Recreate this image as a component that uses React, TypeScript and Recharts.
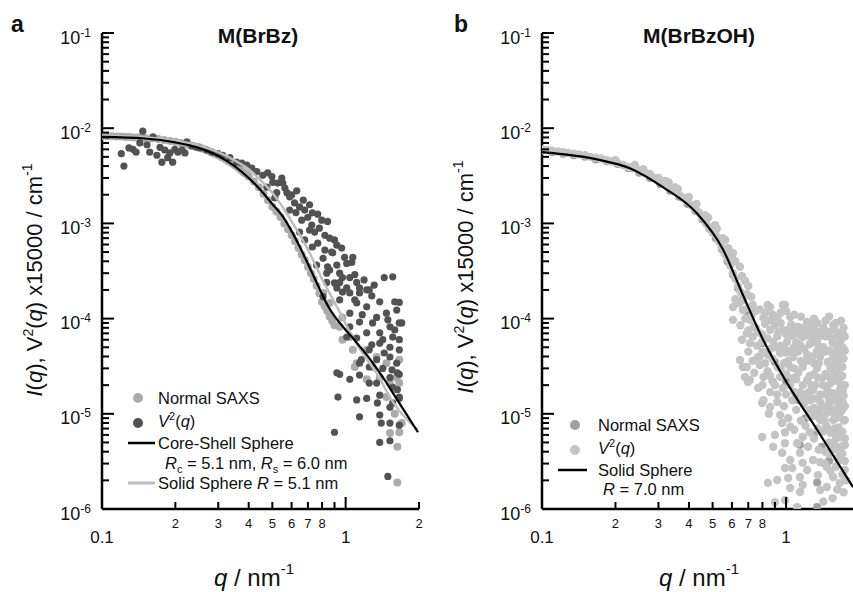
import React from 'react';
import { ComposedChart, Scatter, Line, XAxis, YAxis } from 'recharts';

const FONT = '"Liberation Sans", Arial, Helvetica, sans-serif';

type Pt = [number, number];

// ── Panel a: M(BrBz) ─────────────────────────────────────────
const normalSaxsA: Pt[] = [
  [0.100, 8.3e-3], [0.105, 8.3e-3], [0.110, 8.25e-3], [0.115, 8.2e-3], [0.120, 8.2e-3],
  [0.125, 8.1e-3], [0.130, 8.1e-3], [0.135, 8.0e-3], [0.140, 8.0e-3], [0.145, 7.95e-3],
  [0.150, 7.9e-3], [0.160, 7.8e-3], [0.170, 7.7e-3], [0.180, 7.5e-3], [0.190, 7.35e-3],
  [0.200, 7.2e-3], [0.210, 7.0e-3], [0.220, 6.8e-3], [0.230, 6.6e-3], [0.240, 6.45e-3],
  [0.250, 6.3e-3], [0.260, 6.1e-3], [0.270, 5.85e-3], [0.280, 5.6e-3], [0.290, 5.4e-3],
  [0.300, 5.2e-3], [0.310, 4.95e-3], [0.320, 4.75e-3], [0.330, 4.5e-3], [0.340, 4.3e-3],
  [0.350, 4.1e-3], [0.360, 3.9e-3], [0.370, 3.65e-3], [0.380, 3.45e-3], [0.390, 3.3e-3],
  [0.400, 3.1e-3], [0.420, 2.75e-3], [0.440, 2.4e-3], [0.460, 2.05e-3], [0.480, 1.75e-3],
  [0.500, 1.5e-3], [0.520, 1.33e-3], [0.540, 1.17e-3], [0.560, 1.0e-3], [0.580, 8.7e-4],
  [0.600, 7.5e-4], [0.620, 6.5e-4], [0.640, 5.5e-4], [0.660, 4.7e-4], [0.680, 4.1e-4],
  [0.700, 3.5e-4], [0.720, 3.0e-4], [0.740, 2.6e-4], [0.760, 2.2e-4], [0.780, 1.85e-4],
  [0.800, 1.5e-4], [0.820, 1.35e-4], [0.840, 1.2e-4], [0.860, 1.05e-4], [0.880, 9.5e-5],
  [0.900, 8.5e-5], [0.808, 1.86e-4], [0.86, 1.46e-4], [0.97, 1.03e-4], [0.945, 8.2e-5],
  [0.97, 6.0e-5], [1.04, 6.4e-5], [1.07, 4.7e-5], [1.09, 3.1e-5], [1.11, 3.4e-5],
  [1.22, 4.7e-5], [1.22, 2.3e-5], [1.29, 3.1e-5], [1.34, 3.95e-5], [1.38, 2.4e-5],
  [1.47, 3.4e-5], [1.47, 1.5e-5], [1.52, 2.1e-5], [1.62, 1.8e-5], [1.62, 2.4e-5],
  [1.66, 2.1e-5], [1.66, 3.7e-5], [1.59, 1.0e-5], [1.70, 8.0e-6], [1.66, 6.4e-6],
  [1.52, 6.3e-6], [1.63, 4.5e-6], [1.63, 1.9e-6],
];

const v2A: Pt[] = [
  [0.120, 5.4e-3], [0.123, 4.0e-3], [0.129, 6.2e-3], [0.134, 6.0e-3], [0.138, 5.6e-3],
  [0.143, 7.0e-3], [0.147, 9.3e-3], [0.153, 6.7e-3], [0.157, 5.6e-3], [0.162, 8.1e-3],
  [0.168, 5.2e-3], [0.173, 6.3e-3], [0.176, 4.4e-3], [0.181, 5.9e-3], [0.186, 4.9e-3],
  [0.190, 5.5e-3], [0.195, 4.4e-3], [0.199, 6.0e-3], [0.205, 5.6e-3], [0.213, 5.9e-3],
  [0.219, 5.5e-3], [0.223, 7.2e-3], [0.234, 6.5e-3], [0.245, 6.3e-3], [0.252, 6.2e-3],
  [0.269, 5.9e-3], [0.283, 5.6e-3], [0.299, 5.4e-3], [0.313, 5.2e-3], [0.335, 4.9e-3],
  [0.357, 4.4e-3], [0.375, 4.3e-3], [0.393, 4.1e-3], [0.412, 3.8e-3], [0.432, 3.5e-3],
  [0.457, 3.2e-3], [0.479, 3.4e-3], [0.498, 3.1e-3], [0.502, 2.7e-3], [0.526, 2.65e-3],
  [0.475, 2.4e-3], [0.512, 1.85e-3], [0.521, 2.1e-3], [0.547, 3.0e-3], [0.552, 2.65e-3],
  [0.574, 2.1e-3], [0.589, 1.9e-3], [0.617, 1.64e-3], [0.647, 1.49e-3], [0.679, 1.38e-3],
  [0.73, 1.29e-3], [0.768, 1.25e-3], [0.699, 1.16e-3], [0.66, 1.08e-3], [0.726, 9.6e-4],
  [0.78, 8.9e-4], [0.746, 8.1e-4], [0.822, 7.5e-4], [0.86, 7.0e-4], [0.90, 6.7e-4],
  [0.679, 6.7e-4], [0.768, 6.2e-4], [0.822, 5.25e-4], [0.876, 5.0e-4], [0.99, 4.4e-4],
  [1.01, 3.8e-4], [0.92, 3.65e-4], [0.76, 3.65e-4], [0.843, 3.5e-4], [0.836, 3.0e-4],
  [0.945, 3.0e-4], [1.04, 2.7e-4], [1.09, 2.9e-4], [1.11, 2.4e-4], [1.44, 2.7e-4],
  [1.56, 2.75e-4], [0.945, 2.4e-4], [1.01, 2.1e-4], [1.14, 2.1e-4], [1.22, 2.0e-4],
  [1.04, 1.86e-4], [0.97, 1.9e-4], [1.07, 4.4e-4], [0.885, 4.9e-4], [0.97, 2.7e-4],
  [1.14, 1.86e-4], [1.25, 2.0e-4], [0.836, 2.4e-4], [0.808, 1.7e-4], [0.92, 2.1e-4],
  [0.945, 1.57e-4], [1.11, 1.46e-4], [1.22, 1.33e-4], [1.38, 1.5e-4], [1.66, 1.48e-4],
  [1.62, 1.23e-4], [1.47, 1.14e-4], [1.34, 1.03e-4], [1.17, 1.1e-4], [1.04, 1.14e-4],
  [1.04, 8.2e-5], [1.14, 9.2e-5], [1.29, 9.0e-5], [1.52, 8.2e-5], [1.66, 9.0e-5],
  [1.56, 6.4e-5], [1.38, 7.1e-5], [1.22, 7.1e-5], [1.11, 6.25e-5], [1.01, 6.4e-5],
  [1.38, 5.5e-5], [1.52, 5.0e-5], [1.25, 4.7e-5], [1.16, 3.7e-5], [1.34, 3.7e-5],
  [1.52, 3.95e-5], [1.66, 4.7e-5], [1.62, 3.4e-5], [1.25, 3.1e-5], [1.42, 3.0e-5],
  [0.92, 2.7e-5], [1.52, 2.4e-5], [1.66, 2.6e-5], [1.34, 2.1e-5], [1.56, 1.9e-5],
  [1.66, 1.5e-5], [0.93, 1.5e-5], [1.11, 1.4e-5], [1.14, 9.3e-6], [1.22, 1.45e-5],
  [0.90, 6.4e-6], [1.38, 5.0e-6], [1.52, 5.2e-6], [1.49, 2.2e-6], [1.59, 1.5e-4],
  [1.70, 9.0e-5], [1.66, 6.0e-5], [1.63, 2.7e-5], [1.63, 1.8e-5], [1.52, 1.17e-5],
  [1.66, 7.6e-6], [1.04, 2.3e-5], [0.945, 2.6e-5], [1.14, 3.4e-5], [1.35, 1.3e-5],
  [1.38, 9.7e-6], [1.40, 8.0e-6], [1.52, 8.0e-6], [1.56, 1.3e-5], [1.66, 1.45e-5],
  [0.563, 2.35e-3], [0.601, 2.0e-3], [0.63, 2.2e-3], [0.67, 1.76e-3], [0.711, 1.57e-3],
  [0.625, 1.3e-3], [0.798, 1.08e-3], [0.843, 1.05e-3], [0.711, 8.5e-4], [0.92, 5.9e-4],
  [0.963, 5.5e-4], [0.808, 4.3e-4], [1.06, 3.9e-4], [0.90, 2.37e-4], [1.09, 1.57e-4],
  [1.28, 1.73e-4], [1.19, 2.55e-4], [1.31, 2.25e-4], [1.49, 9.7e-5], [1.42, 6.0e-5],
  [1.28, 5.3e-5], [1.59, 7.6e-5], [1.44, 4.35e-5], [1.55, 2.9e-5], [1.38, 1.57e-5],
  [1.25, 2.1e-5], [1.14, 2.55e-5], [0.86, 3.24e-4], [0.73, 5.65e-4], [0.647, 8.1e-4],
  [0.589, 1.38e-3],
];

const coreShellA: Pt[] = [
  [0.1, 8.1e-3], [0.15, 7.8e-3], [0.2, 7.1e-3], [0.25, 6.2e-3], [0.3, 5.1e-3],
  [0.35, 4.0e-3], [0.4, 3.0e-3], [0.45, 2.2e-3], [0.5, 1.6e-3], [0.55, 1.2e-3],
  [0.6, 8.3e-4], [0.65, 5.6e-4], [0.69, 4.07e-4], [0.75, 2.58e-4], [0.8, 1.81e-4],
  [0.85, 1.33e-4], [0.9, 1.06e-4], [0.95, 8.9e-5], [1.0, 7.6e-5], [1.07, 6.25e-5],
  [1.15, 5.0e-5], [1.25, 3.85e-5], [1.34, 3.0e-5], [1.45, 2.24e-5], [1.55, 1.71e-5],
  [1.66, 1.3e-5], [1.8, 9.4e-6], [1.98, 6.4e-6],
];

const solidSphereA: Pt[] = [
  [0.1, 8.4e-3], [0.15, 8.0e-3], [0.2, 7.4e-3], [0.25, 6.6e-3], [0.3, 5.6e-3],
  [0.35, 4.6e-3], [0.4, 3.7e-3], [0.45, 2.8e-3], [0.5, 2.1e-3], [0.55, 1.5e-3],
  [0.6, 1.05e-3], [0.65, 7.5e-4], [0.7, 5.3e-4], [0.75, 3.7e-4], [0.8, 2.6e-4],
  [0.886, 1.6e-4], [0.95, 1.15e-4], [1.0, 8.8e-5], [1.1, 5.6e-5], [1.2, 4.0e-5],
  [1.35, 2.6e-5], [1.52, 1.5e-5], [1.7, 1.0e-5], [1.85, 8.0e-6], [1.98, 6.8e-6],
];

// ── Panel b: M(BrBzOH) ───────────────────────────────────────
const normalSaxsB: Pt[] = [
  [0.100, 5.8e-3], [0.110, 5.6e-3], [0.122, 5.4e-3], [0.135, 5.2e-3], [0.150, 5.0e-3],
  [0.166, 4.7e-3], [0.184, 4.5e-3], [0.204, 4.2e-3], [0.226, 3.8e-3], [0.250, 3.4e-3],
  [0.277, 3.0e-3], [0.305, 2.6e-3], [0.335, 2.2e-3], [0.365, 1.9e-3], [0.395, 1.6e-3],
  [0.425, 1.35e-3], [0.455, 1.1e-3], [0.485, 8.8e-4], [0.515, 7.0e-4], [0.545, 5.4e-4],
  [0.575, 4.0e-4], [0.605, 2.9e-4], [0.635, 2.1e-4], [0.665, 1.6e-4], [0.70, 1.15e-4],
  [0.75, 8.0e-5], [0.80, 5.5e-5], [0.90, 3.5e-5], [1.00, 2.2e-5], [1.10, 1.5e-5],
  [1.12, 1.4e-5], [1.20, 9.0e-6], [1.30, 6.0e-6], [1.40, 4.5e-6], [1.50, 3.2e-6],
  [1.14, 4.7e-6], [1.34, 1.9e-6], [1.34, 1.05e-6],
];

const v2B: Pt[] = [
  [0.100, 6.0e-3], [0.105, 5.9e-3], [0.110, 5.8e-3], [0.116, 5.7e-3], [0.122, 5.6e-3],
  [0.128, 5.5e-3], [0.135, 5.4e-3], [0.142, 5.3e-3], [0.150, 5.2e-3], [0.158, 5.0e-3],
  [0.166, 4.9e-3], [0.175, 4.8e-3], [0.184, 4.6e-3], [0.194, 4.5e-3], [0.204, 4.3e-3],
  [0.215, 4.1e-3], [0.226, 3.9e-3], [0.238, 3.8e-3], [0.240, 4.1e-3], [0.250, 3.6e-3],
  [0.260, 3.7e-3], [0.263, 3.4e-3], [0.277, 3.3e-3], [0.290, 3.0e-3], [0.305, 2.8e-3],
  [0.320, 2.6e-3], [0.320, 2.8e-3], [0.335, 2.4e-3], [0.350, 2.2e-3], [0.350, 2.4e-3],
  [0.365, 2.0e-3], [0.380, 1.85e-3], [0.395, 1.7e-3], [0.410, 1.55e-3], [0.425, 1.4e-3],
  [0.440, 1.3e-3], [0.455, 1.15e-3], [0.466, 1.22e-3], [0.470, 1.0e-3], [0.485, 9.0e-4],
  [0.500, 8.0e-4], [0.512, 9.6e-4], [0.515, 7.5e-4], [0.530, 6.5e-4], [0.545, 5.6e-4],
  [0.560, 4.8e-4], [0.563, 6.7e-4], [0.570, 5.0e-4], [0.575, 4.2e-4], [0.590, 3.6e-4],
  [0.600, 4.6e-4], [0.605, 3.0e-4], [0.606, 4.9e-4], [0.620, 2.6e-4], [0.635, 2.2e-4],
  [0.647, 3.5e-4], [0.650, 1.9e-4], [0.679, 2.5e-4], [0.69, 1.8e-4], [0.84, 1.39e-4],
  [0.2, 4.6e-3], [0.3, 3.0e-3], [0.33, 2.7e-3], [0.36, 2.3e-3], [0.4, 1.9e-3],
  [0.43, 1.6e-3], [0.48, 1.15e-3], [0.52, 8.8e-4], [0.55, 7.0e-4], [0.58, 5.5e-4],
  [0.62, 4.0e-4], [0.66, 2.8e-4], [0.7, 2.2e-4], [0.72, 1.7e-4],
  [0.606, 1.32e-4], [0.665, 1.23e-4], [0.73, 1.39e-4], [0.86, 1.32e-4], [0.99, 1.39e-4],
  [0.606, 9.7e-5], [0.711, 9.7e-5], [0.808, 1.02e-4], [0.92, 1.04e-4], [1.04, 1.04e-4],
  [1.22, 9.0e-5], [1.34, 9.0e-5], [1.56, 8.6e-5], [0.69, 7.0e-5], [0.768, 7.2e-5],
  [0.86, 7.6e-5], [0.97, 7.6e-5], [1.11, 7.0e-5], [1.25, 7.2e-5], [1.38, 7.0e-5],
  [1.62, 7.0e-5], [0.711, 5.55e-5], [0.798, 5.7e-5], [0.885, 5.7e-5], [1.01, 5.7e-5],
  [1.14, 5.3e-5], [1.34, 5.55e-5], [1.55, 5.55e-5], [1.70, 5.0e-5], [0.768, 3.95e-5],
  [0.843, 4.15e-5], [0.945, 4.35e-5], [1.07, 3.95e-5], [1.22, 4.15e-5], [1.38, 3.95e-5],
  [1.56, 3.95e-5], [0.69, 3.1e-5], [0.78, 3.26e-5], [0.92, 3.1e-5], [1.04, 3.1e-5],
  [1.17, 3.1e-5], [1.34, 3.03e-5], [1.52, 3.03e-5], [1.70, 3.1e-5], [0.711, 2.27e-5],
  [0.808, 2.44e-5], [0.945, 2.44e-5], [1.07, 2.38e-5], [1.22, 2.27e-5], [1.40, 2.38e-5],
  [1.62, 2.27e-5], [0.768, 1.87e-5], [0.86, 1.69e-5], [0.97, 1.87e-5], [1.14, 1.69e-5],
  [1.29, 1.78e-5], [1.47, 1.87e-5], [1.66, 1.78e-5], [0.808, 1.39e-5], [0.92, 1.33e-5],
  [1.06, 1.39e-5], [1.25, 1.39e-5], [1.38, 1.33e-5], [1.56, 1.39e-5], [1.71, 1.3e-5],
  [0.665, 3.1e-5], [0.699, 2.16e-5], [0.647, 3.67e-5], [0.97, 1.39e-4], [1.22, 9.2e-5],
  [1.63, 7.0e-5], [1.66, 3.67e-5], [0.679, 2.44e-5], [0.798, 1.3e-5], [0.86, 1.18e-5],
  [0.945, 9.7e-6], [0.963, 8.0e-6], [0.798, 5.7e-6], [0.90, 6.0e-6], [0.99, 6.4e-6],
  [1.04, 7.3e-6], [0.99, 4.9e-6], [0.963, 3.9e-6], [1.04, 3.27e-6], [1.14, 3.9e-6],
  [1.11, 4.9e-6], [1.17, 5.7e-6], [1.25, 6.4e-6], [1.23, 4.5e-6], [1.17, 3.05e-6],
  [1.06, 2.7e-6], [0.99, 2.7e-6], [1.22, 2.57e-6], [1.14, 2.17e-6], [1.02, 2.12e-6],
  [0.92, 2.02e-6], [0.843, 1.88e-6], [1.04, 1.66e-6], [1.17, 1.79e-6], [1.14, 1.51e-6],
  [0.90, 1.18e-6], [0.99, 1.24e-6], [1.11, 1.05e-6], [1.35, 2.27e-6], [1.38, 3.1e-6],
  [1.29, 3.27e-6], [1.25, 9.3e-6], [1.38, 8.6e-6], [1.47, 1.02e-5], [1.56, 8.6e-6],
  [1.66, 1.02e-5], [1.52, 6.3e-6], [1.66, 5.7e-6], [1.56, 4.2e-6], [1.66, 3.27e-6],
  [1.47, 2.76e-6], [1.56, 2.17e-6], [1.66, 1.88e-6], [1.47, 1.7e-6], [1.38, 1.58e-6],
  [0.885, 4.5e-6], [1.74, 4.7e-6], [1.74, 2.57e-6], [1.71, 1.78e-5], [1.74, 4.6e-5],
  [1.74, 8.6e-6], [1.60, 1.5e-5], [1.50, 1.2e-5], [1.62, 6.0e-6], [1.45, 4.0e-6],
  [0.62, 1.6e-4], [0.64, 1.45e-4], [0.66, 1.55e-4], [0.70, 1.3e-4], [0.75, 1.2e-4],
  [0.78, 1.25e-4], [0.82, 1.15e-4], [0.88, 1.1e-4], [0.95, 1.15e-4], [1.0, 1.2e-4],
  [1.08, 1.1e-4], [1.15, 1.05e-4], [1.3, 1.0e-4], [1.45, 9.5e-5], [1.5, 1.05e-4],
  [1.6, 9.0e-5], [1.68, 9.5e-5], [1.72, 8.0e-5], [0.65, 8.5e-5], [0.74, 8.2e-5],
  [0.82, 8.8e-5], [0.9, 8.5e-5], [0.95, 9.0e-5], [1.05, 8.6e-5], [1.12, 8.2e-5],
  [1.18, 8.0e-5], [1.28, 8.3e-5], [1.42, 8.0e-5], [1.7, 7.2e-5], [0.66, 6.0e-5],
  [0.73, 6.5e-5], [0.8, 6.8e-5], [0.84, 6.2e-5], [0.92, 6.5e-5], [1.06, 6.6e-5],
  [1.17, 6.4e-5], [1.3, 6.2e-5], [1.45, 6.5e-5], [1.5, 7.3e-5], [1.68, 6.0e-5],
  [1.74, 6.5e-5], [0.95, 5.2e-5], [1.08, 5.0e-5], [1.25, 5.4e-5], [1.42, 5.0e-5],
  [1.62, 5.2e-5], [0.7, 4.5e-5], [0.73, 3.6e-5], [0.8, 4.5e-5], [0.88, 3.8e-5],
  [1.0, 4.4e-5], [1.12, 4.5e-5], [1.15, 3.6e-5], [1.28, 4.0e-5], [1.3, 3.4e-5],
  [1.45, 4.5e-5], [1.48, 3.5e-5], [1.64, 4.3e-5], [1.72, 3.8e-5], [0.98, 3.4e-5],
  [1.6, 3.3e-5], [0.74, 2.7e-5], [0.84, 2.8e-5], [0.88, 2.2e-5], [1.0, 2.6e-5],
  [1.12, 2.7e-5], [1.17, 2.0e-5], [1.3, 2.6e-5], [1.32, 2.0e-5], [1.45, 2.6e-5],
  [1.52, 2.1e-5], [1.58, 2.6e-5], [1.7, 2.5e-5], [1.74, 2.0e-5], [0.8, 2.0e-5],
  [1.04, 2.0e-5], [0.92, 1.6e-5], [1.2, 1.6e-5], [1.38, 1.6e-5], [1.56, 1.65e-5],
  [1.72, 1.55e-5], [0.85, 1.0e-5], [0.98, 1.2e-5], [1.1, 1.1e-5], [1.18, 1.25e-5],
  [1.3, 1.15e-5], [1.42, 1.2e-5], [1.5, 1.4e-5], [1.62, 1.15e-5], [1.7, 1.1e-5],
  [1.74, 1.2e-5], [1.02, 9.0e-6], [1.15, 8.5e-6], [1.32, 9.5e-6], [1.44, 8.5e-6],
  [1.6, 9.0e-6], [1.72, 8.5e-6], [1.08, 6.8e-6], [1.2, 7.5e-6], [1.3, 5.5e-6],
  [1.42, 6.5e-6], [1.5, 5.0e-6], [1.58, 7.0e-6], [1.7, 6.5e-6], [1.74, 5.5e-6],
  [1.36, 4.2e-6], [1.5, 3.8e-6], [1.62, 4.5e-6], [1.7, 3.8e-6], [1.74, 3.2e-6],
  [1.44, 3.0e-6], [1.6, 2.8e-6], [1.7, 2.3e-6], [1.76, 2.0e-6], [1.52, 2.5e-6],
  [1.62, 1.6e-6], [1.72, 1.5e-6], [1.55, 1.3e-6], [1.42, 1.2e-6], [0.68, 1.0e-4],
  [0.72, 1.05e-4], [0.7, 7.5e-5], [0.76, 5.2e-5], [0.78, 4.0e-5], [0.82, 3.4e-5],
  [0.86, 2.5e-5], [0.9, 2.0e-5],
  [0.83, 9.5e-5], [0.87, 9.6e-5], [0.93, 7.2e-5], [1.0, 6.9e-5], [1.03, 7.8e-5],
  [1.09, 7.4e-5], [1.14, 6.8e-5], [1.2, 7.6e-5], [1.24, 6.6e-5], [1.32, 7.4e-5],
  [1.36, 6.4e-5], [1.4, 7.4e-5], [1.48, 7.0e-5], [1.54, 6.2e-5], [1.58, 7.6e-5],
  [1.64, 6.4e-5], [0.86, 4.8e-5], [0.9, 5.0e-5], [0.98, 4.9e-5], [1.04, 4.6e-5],
  [1.1, 5.6e-5], [1.19, 4.8e-5], [1.22, 3.6e-5], [1.34, 4.6e-5], [1.36, 3.4e-5],
  [1.4, 4.4e-5], [1.5, 4.6e-5], [1.55, 3.5e-5], [1.58, 4.5e-5], [1.68, 4.0e-5],
  [0.95, 3.0e-5], [1.02, 3.6e-5], [1.08, 3.0e-5], [1.1, 2.3e-5], [1.25, 2.5e-5],
  [1.27, 2.0e-5], [1.35, 2.4e-5], [1.42, 2.0e-5], [1.48, 2.5e-5], [1.55, 2.2e-5],
  [1.66, 2.1e-5], [1.64, 2.9e-5], [1.0, 1.6e-5], [1.08, 1.7e-5], [1.16, 1.45e-5],
  [1.24, 1.7e-5], [1.3, 1.45e-5], [1.45, 1.6e-5], [1.5, 1.7e-5], [1.62, 1.4e-5],
  [1.68, 1.3e-5], [1.25, 1.1e-5], [1.36, 1.1e-5], [1.48, 1.1e-5], [1.55, 1.05e-5],
  [1.64, 9.6e-6], [1.4, 9.5e-6], [1.35, 7.0e-6], [1.46, 7.5e-6], [1.54, 6.8e-6],
  [1.64, 7.2e-6], [1.6, 5.5e-6], [1.7, 4.6e-6], [1.56, 4.8e-6], [1.66, 3.9e-6],
  [1.62, 3.4e-6],
];

const solidSphereB: Pt[] = [
  [0.1, 5.6e-3], [0.168, 4.7e-3], [0.229, 3.8e-3], [0.313, 2.4e-3], [0.432, 1.27e-3],
  [0.552, 5.3e-4], [0.66, 1.86e-4], [0.805, 6.0e-5], [1.01, 2.1e-5], [1.34, 6.8e-6],
  [1.88, 1.7e-6],
];

// ── Axes ─────────────────────────────────────────────────────
const X_TICKS = [0.1, 0.2, 0.3, 0.4, 0.5, 0.6, 0.7, 0.8, 0.9, 1, 2];
const X_TICK_LABELS = ['0.1', '2', '3', '4', '5', '6', '7', '8', '', '1', '2'];
const X_MAJOR = [0.1, 1];
const Y_DECADES = [1e-6, 1e-5, 1e-4, 1e-3, 1e-2, 1e-1];
const Y_EXPONENTS = ['-6', '-5', '-4', '-3', '-2', '-1'];
const Y_MINOR_STEPS = [2, 3, 4, 5, 6, 7, 8, 9];

const Y_TICKS = Y_DECADES.flatMap((d, k) =>
  k < Y_DECADES.length - 1 ? [d, ...Y_MINOR_STEPS.map(s => d * s)] : [d]
);

const near = (a: number, b: number) => Math.abs(a / b - 1) < 1e-6;
const rows = (pts: Pt[]) => pts.map(([q, i]) => ({ q, i }));

function XTick(props: any) {
  const { x, y, payload } = props;
  const v = payload.value;
  const idx = X_TICKS.findIndex(t => near(t, v));
  const major = X_MAJOR.some(t => near(t, v));
  const label = idx >= 0 ? X_TICK_LABELS[idx] : '';
  return (
    <g>
      <line x1={x} x2={x} y1={y} y2={y - (major ? 12 : 7)} stroke="#000" strokeWidth={2} />
      {label && (
        <text x={x} y={major ? y + 34 : y + 19} textAnchor="middle" fontFamily={FONT}
          fontSize={major ? 17 : 13} fill="#111">{label}</text>
      )}
    </g>
  );
}

function YTick(props: any) {
  const { x, y, payload } = props;
  const di = Y_DECADES.findIndex(t => near(t, payload.value));
  const major = di >= 0;
  return (
    <g>
      <line x1={x} x2={x + (major ? 12 : 7)} y1={y} y2={y} stroke="#000" strokeWidth={2} />
      {major && (
        <text x={x - 11} y={y + 10.5} textAnchor="end" fontFamily={FONT} fontSize={18} fill="#111">
          10<tspan dy={-7} fontSize={12}>{Y_EXPONENTS[di]}</tspan>
        </text>
      )}
    </g>
  );
}

const dot = (fill: string, r: number) => (p: any) => <circle cx={p.cx} cy={p.cy} r={r} fill={fill} />;

const AXIS_LINE = { stroke: '#000', strokeWidth: 2.5 };

function LogPanel({
  width, left, marginLeft, marginRight, xMax, xTicks, children,
}: {
  width: number; left: number; marginLeft: number; marginRight: number;
  xMax: number; xTicks: number[]; children: React.ReactNode;
}) {
  return (
    <div style={{ position: 'absolute', left, top: 0 }}>
      <ComposedChart width={width} height={592}
        margin={{ top: 33, right: marginRight, bottom: 23, left: marginLeft }}>
        <XAxis type="number" dataKey="q" scale="log" domain={[0.1, xMax]} allowDataOverflow
          ticks={xTicks} interval={0} tick={XTick} tickSize={0} tickMargin={0}
          height={60} axisLine={AXIS_LINE} tickLine={false} />
        <YAxis type="number" dataKey="i" scale="log" domain={[1e-6, 1e-1]} allowDataOverflow
          ticks={Y_TICKS} interval={0} tick={YTick} tickSize={0} tickMargin={0}
          width={90} axisLine={AXIS_LINE} tickLine={false} />
        {children}
      </ComposedChart>
    </div>
  );
}

export default function App() {
  const txt = { fontFamily: FONT, fill: '#111' };
  return (
    <div style={{ position: 'absolute', left: 0, top: 0, width: 853, height: 592, overflow: 'hidden', background: '#fff' }}>
      <LogPanel width={430} left={0} marginLeft={12} marginRight={11} xMax={2} xTicks={X_TICKS}>
        <Scatter data={rows(normalSaxsA)} dataKey="i" shape={dot('#ababab', 4)} isAnimationActive={false} />
        <Scatter data={rows(v2A)} dataKey="i" shape={dot('#525252', 3.6)} isAnimationActive={false} />
        <Line data={rows(solidSphereA)} dataKey="i" type="monotone" stroke="#bdbdbd" strokeWidth={2.5}
          dot={false} isAnimationActive={false} zIndex={700} />
        <Line data={rows(coreShellA)} dataKey="i" type="monotone" stroke="#000" strokeWidth={2.2}
          dot={false} isAnimationActive={false} zIndex={710} />
      </LogPanel>
      <LogPanel width={423} left={430} marginLeft={22} marginRight={0} xMax={1.88}
        xTicks={X_TICKS.filter(t => t <= 1.88)}>
        <Scatter data={rows(normalSaxsB)} dataKey="i" shape={dot('#a0a0a0', 4)} isAnimationActive={false} />
        <Scatter data={rows(v2B)} dataKey="i" shape={dot('#c4c4c4', 4.2)} isAnimationActive={false} />
        <Line data={rows(solidSphereB)} dataKey="i" type="monotone" stroke="#000" strokeWidth={2.2}
          dot={false} isAnimationActive={false} zIndex={710} />
      </LogPanel>

      {/* text, titles and legends */}
      <svg width={853} height={592} style={{ position: 'absolute', left: 0, top: 0, pointerEvents: 'none' }}>
        <text x={11} y={32} {...txt} fontSize={23} fontWeight="bold">a</text>
        <text x={454} y={32} {...txt} fontSize={23} fontWeight="bold">b</text>
        <text x={258} y={43} {...txt} fontSize={21} fontWeight="bold" textAnchor="middle">M(BrBz)</text>
        <text x={699} y={43} {...txt} fontSize={21} fontWeight="bold" textAnchor="middle">M(BrBzOH)</text>

        {[{ x: 42, y: 280 }, { x: 473, y: 277 }].map((p, k) => (
          <text key={k} x={p.x} y={p.y} transform={`rotate(-90 ${p.x} ${p.y})`} textAnchor="middle" {...txt} fontSize={22}>
            <tspan fontStyle="italic">I</tspan>(<tspan fontStyle="italic">q</tspan>), V
            <tspan dy={-9} fontSize={14}>2</tspan>
            <tspan dy={9}>(</tspan><tspan fontStyle="italic">q</tspan>) x15000 / cm
            <tspan dy={-10} fontSize={14}>-1</tspan>
          </text>
        ))}
        {[254, 699].map((cx, k) => (
          <text key={k} x={cx} y={586} textAnchor="middle" {...txt} fontSize={24}>
            <tspan fontStyle="italic">q</tspan> / nm<tspan dy={-12} fontSize={15}>-1</tspan>
          </text>
        ))}

        {/* legend a */}
        <circle cx={138} cy={398} r={5} fill="#ababab" />
        <text x={158} y={404} {...txt} fontSize={16.5}>Normal SAXS</text>
        <circle cx={138} cy={423} r={5} fill="#525252" />
        <text x={158} y={427} {...txt} fontSize={16.5}>
          <tspan fontStyle="italic">V</tspan><tspan dy={-7} fontSize={11}>2</tspan><tspan dy={7}>(</tspan><tspan fontStyle="italic">q</tspan>)
        </text>
        <line x1={128} x2={155} y1={443} y2={443} stroke="#000" strokeWidth={2.5} />
        <text x={158} y={449} {...txt} fontSize={16.5}>Core-Shell Sphere</text>
        <text x={165} y={469} {...txt} fontSize={16.5}>
          <tspan fontStyle="italic">R</tspan><tspan dy={4} fontSize={11}>c</tspan><tspan dy={-4}> = 5.1 nm, </tspan>
          <tspan fontStyle="italic">R</tspan><tspan dy={4} fontSize={11}>s</tspan><tspan dy={-4}> = 6.0 nm</tspan>
        </text>
        <line x1={128} x2={155} y1={483} y2={483} stroke="#bdbdbd" strokeWidth={3} />
        <text x={158} y={489} {...txt} fontSize={16.5}>
          Solid Sphere <tspan fontStyle="italic">R</tspan> = 5.1 nm
        </text>

        {/* legend b */}
        <circle cx={575} cy={425} r={5} fill="#a0a0a0" />
        <text x={598} y={431} {...txt} fontSize={16.5}>Normal SAXS</text>
        <circle cx={575} cy={450} r={5} fill="#c4c4c4" />
        <text x={598} y={454} {...txt} fontSize={16.5}>
          <tspan fontStyle="italic">V</tspan><tspan dy={-7} fontSize={11}>2</tspan><tspan dy={7}>(</tspan><tspan fontStyle="italic">q</tspan>)
        </text>
        <line x1={558} x2={587} y1={470} y2={470} stroke="#000" strokeWidth={2.5} />
        <text x={598} y={476} {...txt} fontSize={16.5}>Solid Sphere</text>
        <text x={603} y={495} {...txt} fontSize={16.5}>
          <tspan fontStyle="italic">R</tspan> = 7.0 nm
        </text>
      </svg>
    </div>
  );
}
